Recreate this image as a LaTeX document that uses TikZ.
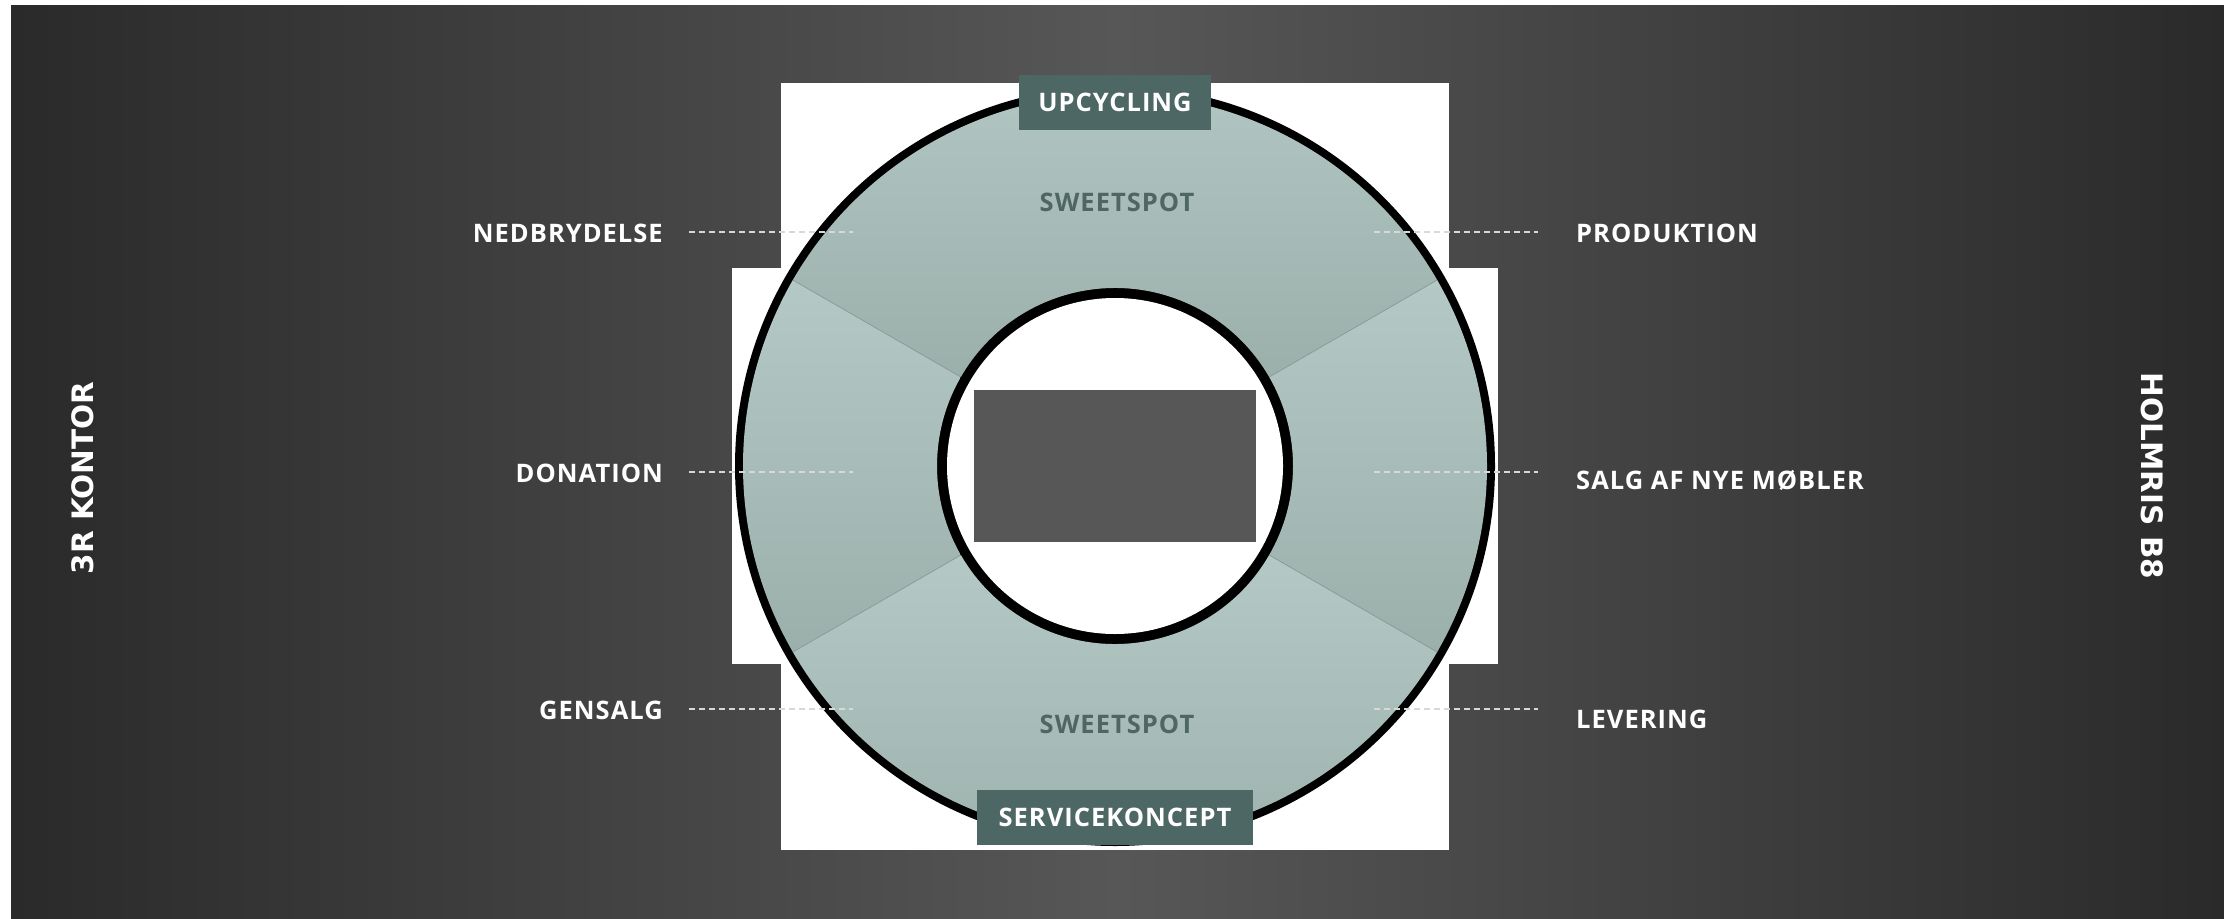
\documentclass[tikz,border=0pt]{standalone}
\usepackage{fontspec}
\setmainfont{Open Sans}
\newfontfamily\dvs{DejaVu Sans}
\newfontfamily\spaced{Open Sans}[LetterSpace=4]
\usetikzlibrary{calc}
\definecolor{bgdark}{HTML}{2A2A2A}
\definecolor{bgmid}{HTML}{575757}
\definecolor{teallight}{HTML}{B4C8C5}
\definecolor{tealdark}{HTML}{9BAFAB}
\definecolor{boxteal}{HTML}{4D6864}
\definecolor{sweet}{HTML}{4F6763}
\definecolor{innerrect}{HTML}{575757}
\definecolor{sepline}{HTML}{8A9E9A}
\definecolor{dashcol}{HTML}{D8D8D8}
\begin{document}
\begin{tikzpicture}[x=1pt,y=1pt,
  lbl/.style={text=white,font=\spaced\bfseries\fontsize{25.5}{30}\selectfont,inner sep=0pt},
  sweetlbl/.style={text=sweet,font=\spaced\bfseries\fontsize{25.5}{30}\selectfont,inner sep=0pt},
  tagbox/.style={fill=boxteal,text=white,font=\spaced\bfseries\fontsize{25.5}{30}\selectfont,inner sep=0pt,minimum height=55pt},
  sidelbl/.style={text=white,font=\dvs\bfseries\fontsize{29.5}{34}\selectfont,inner sep=0pt},
  leader/.style={dashcol,line width=1.5pt,dash pattern=on 6pt off 4pt},
  seg/.style={top color=teallight,bottom color=tealdark,draw=none},
  sepl/.style={sepline,line width=0.8pt}
]
\useasboundingbox (0,0) rectangle (2224,-918);
\fill[white] (0,0) rectangle (2224,-918);
\shade[left color=bgdark,right color=bgdark,middle color=bgmid] (11,-5) rectangle (2224,-918);
% white cross behind ring
\fill[white] (781,-83) rectangle (1449,-850);
\fill[white] (732,-268) rectangle (1498,-664);
\coordinate (C) at (1115,-466);
% black outline disc
\fill[black] (C) circle (380);
% ring segments
\shade[seg] ($(C)+(30:372)$) arc[start angle=30,end angle=150,radius=372] -- ($(C)+(150:178)$) arc[start angle=150,end angle=30,radius=178] -- cycle;
\shade[seg] ($(C)+(150:372)$) arc[start angle=150,end angle=210,radius=372] -- ($(C)+(210:178)$) arc[start angle=210,end angle=150,radius=178] -- cycle;
\shade[seg] ($(C)+(210:372)$) arc[start angle=210,end angle=330,radius=372] -- ($(C)+(330:178)$) arc[start angle=330,end angle=210,radius=178] -- cycle;
\shade[seg] ($(C)+(-30:372)$) arc[start angle=-30,end angle=30,radius=372] -- ($(C)+(30:178)$) arc[start angle=30,end angle=-30,radius=178] -- cycle;
\foreach \a in {30,150,210,330}{
  \draw[sepl] ($(C)+(\a:178)$) -- ($(C)+(\a:372)$);
}
% hole and centre rectangle
\fill[white] (C) circle (168);
\fill[innerrect] (974,-390) rectangle (1256,-542);
% tag boxes
\node[tagbox,minimum width=192pt] (up) at (1115,-102.5) {UPCYCLING};
\node[tagbox,minimum width=276pt] (serv) at (1115,-817) {SERVICEKONCEPT};
% sweetspot labels
\node[sweetlbl] (sweet1) at (1117,-202) {SWEETSPOT};
\node[sweetlbl] (sweet2) at (1117,-724) {SWEETSPOT};
% left labels
\node[lbl,anchor=base east] (nedb) at (663,-242) {NEDBRYDELSE};
\node[lbl,anchor=base east] (don) at (663,-482) {DONATION};
\node[lbl,anchor=base east] (gens) at (663,-719) {GENSALG};
% right labels
\node[lbl,anchor=base west] (prod) at (1576,-242) {PRODUKTION};
\node[lbl,anchor=base west] (salg) at (1576,-489) {SALG AF NYE MØBLER};
\node[lbl,anchor=base west] (lev) at (1576,-728) {LEVERING};
% leader line end points
\coordinate (nedbS) at (689,-232);  \coordinate (nedbE) at (853,-232);
\coordinate (donS) at (689,-472);   \coordinate (donE) at (853,-472);
\coordinate (gensS) at (689,-709);  \coordinate (gensE) at (853,-709);
\coordinate (prodS) at (1374,-232); \coordinate (prodE) at (1538,-232);
\coordinate (salgS) at (1374,-472); \coordinate (salgE) at (1538,-472);
\coordinate (levS) at (1374,-709);  \coordinate (levE) at (1538,-709);
\draw[leader] (nedbS) -- (nedbE);
\draw[leader] (donS) -- (donE);
\draw[leader] (gensS) -- (gensE);
\draw[leader] (prodS) -- (prodE);
\draw[leader] (salgS) -- (salgE);
\draw[leader] (levS) -- (levE);
% side labels
\node[sidelbl,rotate=90] (left) at (83,-478) {3R KONTOR};
\node[sidelbl,rotate=-90] (right) at (2152,-476) {HOLMRIS B8};
\end{tikzpicture}
\end{document}
